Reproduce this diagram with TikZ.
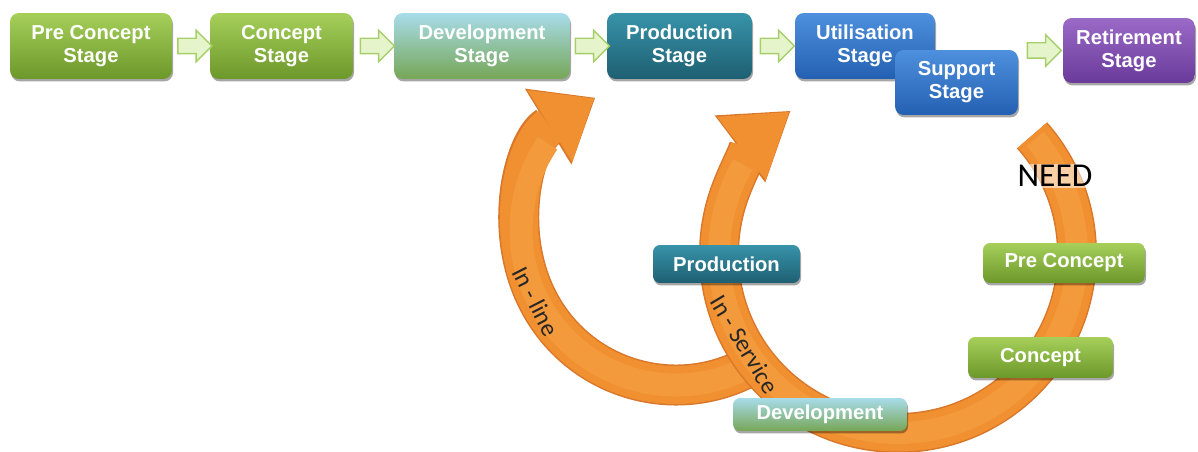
\documentclass[tikz,border=0pt]{standalone}
\usepackage{fontspec}
\setmainfont{Liberation Sans}
\newfontfamily\calfont{Carlito}
\usetikzlibrary{arrows.meta,calc,shapes.arrows,shadows,positioning}

\definecolor{grnTop}{HTML}{A6CF5A}
\definecolor{grnBot}{HTML}{6C982A}
\definecolor{devTop}{HTML}{A8DCEA}
\definecolor{devBot}{HTML}{76A656}
\definecolor{prdTop}{HTML}{3893A9}
\definecolor{prdBot}{HTML}{1E5F72}
\definecolor{utlTop}{HTML}{4E90DD}
\definecolor{utlBot}{HTML}{2460B2}
\definecolor{retTop}{HTML}{9B6AC7}
\definecolor{retBot}{HTML}{6A3A9B}
\definecolor{arcOrange}{HTML}{F09030}
\definecolor{arcEdge}{HTML}{D9772A}
\definecolor{arcLight}{HTML}{F39A3C}
\definecolor{gapFill}{HTML}{E6F4CC}
\definecolor{gapLine}{HTML}{A6CF6A}

\begin{document}
\begin{tikzpicture}[x=0.02cm, y=0.02cm,
    stagebox/.style={rounded corners=5pt, text=white, align=center, inner sep=0pt,
      font=\bfseries\fontsize{11.5}{13}\selectfont,
      drop shadow={shadow xshift=0.6pt, shadow yshift=-1.4pt, opacity=0.35, fill=black}},
    smallbox/.style={stagebox, rounded corners=4pt},
    gaparrow/.style={single arrow, draw=gapLine, fill=gapFill, line width=0.8pt,
      inner sep=0pt, text height=0.14cm, text depth=0.14cm, text width=0pt,
      minimum height=0.68cm, single arrow head extend=0.16cm},
    orangearc/.style={draw=arcOrange},
    arctext/.style={font=\calfont\fontsize{14}{16}\selectfont, text=black!85, inner sep=0pt}]

    % page frame, reference size 1198 x 452
    \useasboundingbox (0,0) rectangle (1198,-452);

    % Stage boxes along the top
    \node[stagebox, top color=grnTop, bottom color=grnBot, minimum width=3.24cm, minimum height=1.32cm]
      (precs) at (91,-46) {Pre Concept\\Stage};
    \node[stagebox, top color=grnTop, bottom color=grnBot, minimum width=2.86cm, minimum height=1.32cm]
      (cs) at (281.5,-46) {Concept\\Stage};
    \node[stagebox, top color=devTop, bottom color=devBot, minimum width=3.52cm, minimum height=1.32cm]
      (devs) at (482,-46) {Development\\Stage};
    \node[stagebox, top color=prdTop, bottom color=prdBot, minimum width=2.90cm, minimum height=1.32cm]
      (prods) at (679.5,-46) {Production\\Stage};
    \node[stagebox, top color=utlTop, bottom color=utlBot, minimum width=2.80cm, minimum height=1.32cm]
      (utils) at (865,-46) {Utilisation\\Stage};
    \node[stagebox, top color=utlTop, bottom color=utlBot, minimum width=2.46cm, minimum height=1.30cm]
      (supps) at (956.5,-82.5) {Support\\Stage};
    \node[stagebox, top color=retTop, bottom color=retBot, minimum width=2.64cm, minimum height=1.30cm]
      (rets) at (1129,-50.5) {Retirement\\Stage};

    % small arrows in the gaps
    \node[gaparrow] (g1) at ($(precs.east)!0.5!(cs.west)$) {};
    \node[gaparrow] (g2) at ($(cs.east)!0.5!(devs.west)$) {};
    \node[gaparrow] (g3) at ($(devs.east)!0.5!(prods.west)$) {};
    \node[gaparrow] (g4) at ($(prods.east)!0.5!(utils.west)$) {};
    \node[gaparrow] (g5) at ($(supps.east |- rets.west)!0.5!(rets.west)$) {};

    % centres of the two loops
    \coordinate (inl) at (676,-230);
    \coordinate (svc) at (898,-254);

    % In-line loop (goes under the big one)
    \draw[arcEdge, line width=0.82cm, -{Triangle[length=1.1cm, width=1.78cm, line width=0pt]}]
      ($(inl)+(-60:155)$) arc[start angle=-60, end angle=-238.5, radius=155];
    \draw[orangearc, line width=0.76cm, -{Triangle[length=1.04cm, width=1.7cm, line width=0pt]}]
      ($(inl)+(-60:155)$) arc[start angle=-60, end angle=-238, radius=155];
    \draw[arcLight, line width=0.46cm] ($(inl)+(-60:155)$) arc[start angle=-60, end angle=-214, radius=155];
    \node[arctext, rotate=-63] (inltxt) at ($(inl)+(207:157)$) {In - line};

    % In-Service loop, starting at NEED
    \draw[arcEdge, line width=0.8cm, -{Triangle[length=1.26cm, width=1.68cm, line width=0pt]}]
      ($(svc)+(41.5:179)$) arc[start angle=41.5, end angle=-233, radius=179];
    \draw[orangearc, line width=0.74cm, -{Triangle[length=1.2cm, width=1.6cm, line width=0pt]}]
      ($(svc)+(41.5:179)$) arc[start angle=41.5, end angle=-232.5, radius=179];
    \draw[arcLight, line width=0.44cm] ($(svc)+(40:179)$) arc[start angle=40, end angle=-210, radius=179];
    \node[arctext, rotate=-59] (svctxt) at ($(svc)+(210.5:178)$) {In - Service};

    \node[font=\calfont\fontsize{19}{22}\selectfont, fill=white, fill opacity=0.55, text opacity=1,
      inner sep=1pt] (need) at (1055,-176) {NEED};

    % phases sitting on the loop
    \node[smallbox, top color=prdTop, bottom color=prdBot, minimum width=2.94cm, minimum height=0.76cm]
      (prodsm) at (726.5,-264) {Production};
    \node[smallbox, top color=devTop, bottom color=devBot, minimum width=3.48cm, minimum height=0.66cm]
      (devsm) at (820,-414.5) {Development};
    \node[smallbox, top color=grnTop, bottom color=grnBot, minimum width=3.24cm, minimum height=0.80cm]
      (presm) at (1064,-263) {Pre Concept};
    \node[smallbox, top color=grnTop, bottom color=grnBot, minimum width=2.90cm, minimum height=0.82cm]
      (consm) at (1040.5,-357.5) {Concept};
\end{tikzpicture}
\end{document}
